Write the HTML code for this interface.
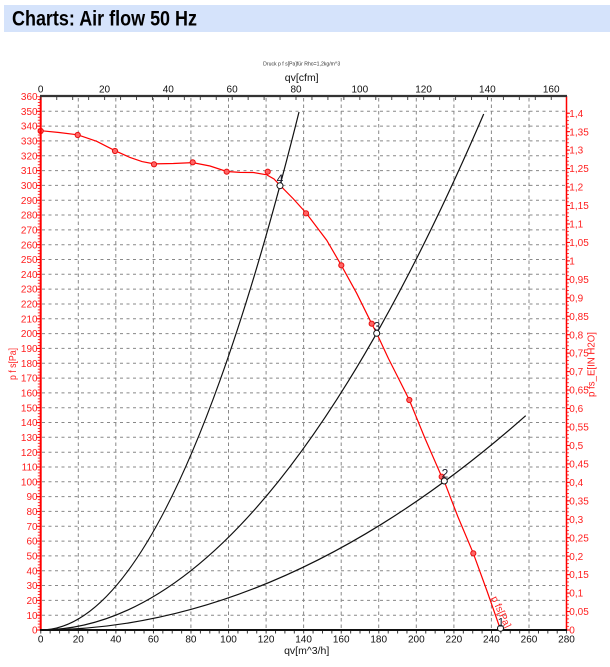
<!DOCTYPE html>
<html><head><meta charset="utf-8">
<style>
html,body{margin:0;padding:0;background:#fff;}
svg{display:block;}
text{font-family:"Liberation Sans",Arial,sans-serif;}
</style></head>
<body>
<svg width="610" height="667" viewBox="0 0 610 667" xmlns="http://www.w3.org/2000/svg">
<defs>
<pattern id="lm" patternUnits="userSpaceOnUse" x="0" y="629.6" width="610" height="2.964"><rect x="0" y="0" width="610" height="0.8" fill="#f00"/></pattern>
<pattern id="lM" patternUnits="userSpaceOnUse" x="0" y="629.5" width="610" height="14.82"><rect x="0" y="0" width="610" height="1" fill="#f00"/></pattern>
<pattern id="rm" patternUnits="userSpaceOnUse" x="0" y="629.6" width="610" height="3.6915"><rect x="0" y="0" width="610" height="0.8" fill="#f00"/></pattern>
<pattern id="rM" patternUnits="userSpaceOnUse" x="0" y="629.5" width="610" height="18.457"><rect x="0" y="0" width="610" height="1" fill="#f00"/></pattern>
<pattern id="bm" patternUnits="userSpaceOnUse" x="40.3" y="0" width="9.39" height="667"><rect x="0" y="0" width="0.9" height="667" fill="#222"/></pattern>
<pattern id="tm" patternUnits="userSpaceOnUse" x="40.3" y="0" width="15.953" height="667"><rect x="0" y="0" width="0.9" height="667" fill="#333"/></pattern>
</defs>

<!-- title bar -->
<rect x="4" y="5" width="606" height="27" fill="#d5e3fb"/>
<text x="12" y="25.5" font-size="21" font-weight="bold" textLength="185" lengthAdjust="spacingAndGlyphs" fill="#000">Charts: Air flow 50 Hz</text>

<!-- small headers -->
<text x="301.7" y="65.5" font-size="5" text-anchor="middle" fill="#333" textLength="77" lengthAdjust="spacingAndGlyphs">Druck p f s[Pa]für Rho=1,2kg/m^3</text>
<text x="301.7" y="81" font-size="10.5" text-anchor="middle" fill="#111">qv[cfm]</text>

<!-- grid -->
<path fill="none" stroke="#888" stroke-width="1" stroke-dasharray="3,3.5" d="
M42,615.2H565 M42,600.4H565 M42,585.5H565 M42,570.7H565 M42,555.9H565 M42,541.1H565 M42,526.3H565 M42,511.4H565 M42,496.6H565 M42,481.8H565
M42,467H565 M42,452.2H565 M42,437.3H565 M42,422.5H565 M42,407.7H565 M42,392.9H565 M42,378.1H565 M42,363.2H565 M42,348.4H565 M42,333.6H565
M42,318.8H565 M42,304H565 M42,289.1H565 M42,274.3H565 M42,259.5H565 M42,244.7H565 M42,229.9H565 M42,215H565 M42,200.2H565 M42,185.4H565
M42,170.6H565 M42,155.8H565 M42,140.9H565 M42,126.1H565 M42,111.3H565"/>
<path fill="none" stroke="#888" stroke-width="1" stroke-dasharray="3.5,3" d="
M78.3,98V629 M115.8,98V629 M153.4,98V629 M190.9,98V629 M228.5,98V629 M266.1,98V629 M303.6,98V629
M341.2,98V629 M378.7,98V629 M416.3,98V629 M453.9,98V629 M491.4,98V629 M529,98V629"/>

<!-- system curves -->
<g fill="none" stroke="#111" stroke-width="1.2">
<path d="M40.7,630 Q169.85,630 299,112"/>
<path d="M40.7,630 Q262.2,630 483.7,114"/>
<path d="M40.7,630 Q283.2,630 525.7,415.7"/>
</g>

<!-- fan curve -->
<polyline fill="none" stroke="#f00" stroke-width="1.2" points="40.7,130.7 59,132.5 77.7,134.8 96.7,141.3 115,150.7 130,157.5 142,161.6 154,163.9 173.3,163.5 192.7,162.6 210,166 226.7,171.5 240,172.4 253.3,172.5 266.7,174.8 274,179 280,185.3 293,198.5 306,212.9 326.7,240.2 341.3,265.3 356.7,293.3 371.7,323.7 376.7,333.3 388.3,358.3 399.3,380 409.3,400 425,438.4 441.7,476.7 444.3,481.5 458,517 473.3,553.3 487,591 500.3,629"/>
<g fill="#ff6666" stroke="#e81010" stroke-width="1">
<circle cx="40.7" cy="131" r="2.6"/>
<circle cx="77.7" cy="135" r="2.6"/>
<circle cx="115" cy="151" r="2.6"/>
<circle cx="154" cy="164.3" r="2.6"/>
<circle cx="192.7" cy="162.3" r="2.6"/>
<circle cx="226.7" cy="171.7" r="2.6"/>
<circle cx="267.7" cy="171.7" r="2.6"/>
<circle cx="306" cy="213.3" r="2.6"/>
<circle cx="341.3" cy="265.3" r="2.6"/>
<circle cx="371.7" cy="323.7" r="2.6"/>
<circle cx="409.3" cy="400" r="2.6"/>
<circle cx="441.7" cy="476.7" r="2.6"/>
<circle cx="473.3" cy="553.3" r="2.6"/>
</g>
<text x="491" y="598" font-size="10" fill="#f22" transform="rotate(65 491 598)">p fs[Pa]</text>

<!-- axes -->
<rect x="37.8" y="96.5" width="2.6" height="533.5" fill="url(#lm)"/>
<rect x="36" y="96.5" width="4.5" height="534" fill="url(#lM)"/>
<line x1="40.7" y1="96" x2="40.7" y2="631" stroke="#f00" stroke-width="2"/>
<rect x="566.5" y="112" width="2.4" height="518" fill="url(#rm)"/>
<rect x="566.5" y="112" width="3.5" height="519" fill="url(#rM)"/>
<line x1="566.5" y1="96" x2="566.5" y2="631" stroke="#f00" stroke-width="1.5"/>
<rect x="40" y="97" width="512" height="3" fill="url(#tm)"/>
<line x1="40" y1="96" x2="567" y2="96" stroke="#333" stroke-width="2.2"/>
<rect x="40" y="631" width="527" height="2.5" fill="url(#bm)"/>
<line x1="40" y1="630" x2="567" y2="630" stroke="#111" stroke-width="2"/>

<!-- operating points -->
<g fill="#fff" stroke="#111" stroke-width="1">
<circle cx="280" cy="185.7" r="3"/>
<circle cx="376.7" cy="333.3" r="3"/>
<circle cx="444.3" cy="481" r="3"/>
<circle cx="500.5" cy="628.3" r="3"/>
</g>
<g font-size="12" fill="#1a1a2a" text-anchor="middle">
<text x="280" y="182.8">4</text>
<text x="377" y="330.5">3</text>
<text x="445" y="477.3">2</text>
<text x="501" y="626.5">1</text>
</g>

<!-- top labels -->
<g font-size="10" fill="#111" text-anchor="middle">
<text x="40.7" y="92.6">0</text>
<text x="104.5" y="92.6">20</text>
<text x="168.3" y="92.6">40</text>
<text x="232.1" y="92.6">60</text>
<text x="296" y="92.6">80</text>
<text x="359.8" y="92.6">100</text>
<text x="423.6" y="92.6">120</text>
<text x="487.4" y="92.6">140</text>
<text x="551.2" y="92.6">160</text>
</g>

<!-- bottom labels -->
<g font-size="10" fill="#111" text-anchor="middle">
<text x="40.7" y="642.6">0</text>
<text x="78.3" y="642.6">20</text>
<text x="115.8" y="642.6">40</text>
<text x="153.4" y="642.6">60</text>
<text x="190.9" y="642.6">80</text>
<text x="228.5" y="642.6">100</text>
<text x="266.1" y="642.6">120</text>
<text x="303.6" y="642.6">140</text>
<text x="341.2" y="642.6">160</text>
<text x="378.7" y="642.6">180</text>
<text x="416.3" y="642.6">200</text>
<text x="453.9" y="642.6">220</text>
<text x="491.4" y="642.6">240</text>
<text x="529" y="642.6">260</text>
<text x="566.5" y="642.6">280</text>
</g>
<text x="306.7" y="654" font-size="10.5" fill="#111" text-anchor="middle">qv[m^3/h]</text>

<!-- left labels -->
<g font-size="10" fill="#ff2020" text-anchor="end">
<text x="37.6" y="633.6">0</text>
<text x="37.6" y="618.8">10</text>
<text x="37.6" y="604">20</text>
<text x="37.6" y="589.1">30</text>
<text x="37.6" y="574.3">40</text>
<text x="37.6" y="559.5">50</text>
<text x="37.6" y="544.7">60</text>
<text x="37.6" y="529.9">70</text>
<text x="37.6" y="515">80</text>
<text x="37.6" y="500.2">90</text>
<text x="37.6" y="485.4">100</text>
<text x="37.6" y="470.6">110</text>
<text x="37.6" y="455.8">120</text>
<text x="37.6" y="440.9">130</text>
<text x="37.6" y="426.1">140</text>
<text x="37.6" y="411.3">150</text>
<text x="37.6" y="396.5">160</text>
<text x="37.6" y="381.7">170</text>
<text x="37.6" y="366.8">180</text>
<text x="37.6" y="352">190</text>
<text x="37.6" y="337.2">200</text>
<text x="37.6" y="322.4">210</text>
<text x="37.6" y="307.6">220</text>
<text x="37.6" y="292.7">230</text>
<text x="37.6" y="277.9">240</text>
<text x="37.6" y="263.1">250</text>
<text x="37.6" y="248.3">260</text>
<text x="37.6" y="233.5">270</text>
<text x="37.6" y="218.6">280</text>
<text x="37.6" y="203.8">290</text>
<text x="37.6" y="189">300</text>
<text x="37.6" y="174.2">310</text>
<text x="37.6" y="159.4">320</text>
<text x="37.6" y="144.5">330</text>
<text x="37.6" y="129.7">340</text>
<text x="37.6" y="114.9">350</text>
<text x="37.6" y="100.1">360</text>
</g>
<text x="15.8" y="364" font-size="10" fill="#ff2020" text-anchor="middle" transform="rotate(-90 15.8 364)" textLength="32" lengthAdjust="spacingAndGlyphs">p f s[Pa]</text>

<!-- right labels -->
<g font-size="10" fill="#ff2020" text-anchor="start">
<text x="569.3" y="633.6">0</text>
<text x="569.3" y="615.1">0,05</text>
<text x="569.3" y="596.7">0,1</text>
<text x="569.3" y="578.2">0,15</text>
<text x="569.3" y="559.8">0,2</text>
<text x="569.3" y="541.3">0,25</text>
<text x="569.3" y="522.9">0,3</text>
<text x="569.3" y="504.4">0,35</text>
<text x="569.3" y="485.9">0,4</text>
<text x="569.3" y="467.5">0,45</text>
<text x="569.3" y="449">0,5</text>
<text x="569.3" y="430.6">0,55</text>
<text x="569.3" y="412.1">0,6</text>
<text x="569.3" y="393.7">0,65</text>
<text x="569.3" y="375.2">0,7</text>
<text x="569.3" y="356.7">0,75</text>
<text x="569.3" y="338.3">0,8</text>
<text x="569.3" y="319.8">0,85</text>
<text x="569.3" y="301.4">0,9</text>
<text x="569.3" y="282.9">0,95</text>
<text x="569.3" y="264.5">1</text>
<text x="569.3" y="246">1,05</text>
<text x="569.3" y="227.5">1,1</text>
<text x="569.3" y="209.1">1,15</text>
<text x="569.3" y="190.6">1,2</text>
<text x="569.3" y="172.2">1,25</text>
<text x="569.3" y="153.7">1,3</text>
<text x="569.3" y="135.3">1,35</text>
<text x="569.3" y="116.8">1,4</text>
</g>
<text x="594.3" y="364.5" font-size="10" fill="#ff2020" text-anchor="middle" transform="rotate(-90 594.3 364.5)" textLength="65" lengthAdjust="spacingAndGlyphs">p fs_E[IN H2O]</text>
</svg>
</body></html>
